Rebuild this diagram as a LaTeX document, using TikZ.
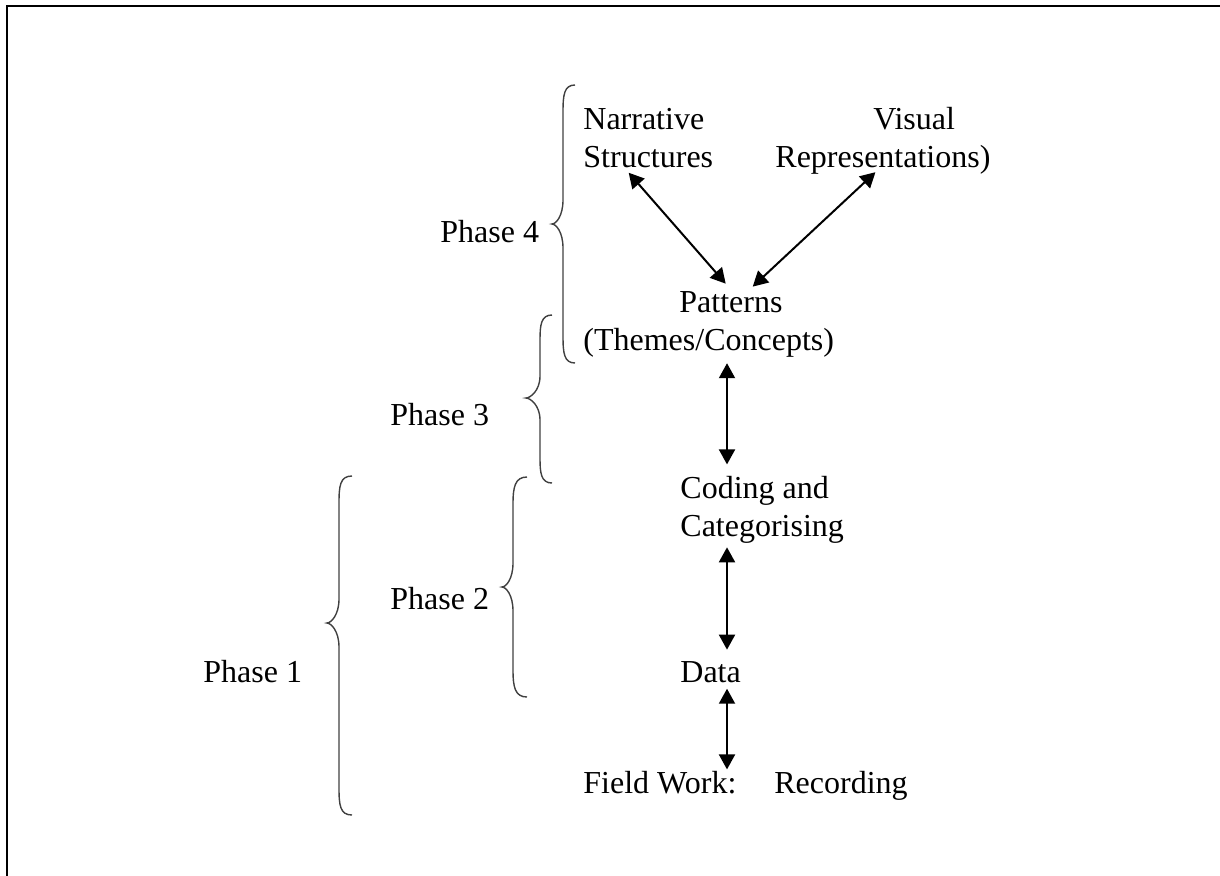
\documentclass[tikz,border=0pt]{standalone}
\usepackage{fontspec}
\setmainfont{Liberation Serif}
\usetikzlibrary{arrows.meta}
\tikzset{
  stage/.style={inner sep=0pt, anchor=base west, align=left, font=\fontsize{16}{19}\selectfont},
  link/.style={{Triangle[length=7.5pt,width=8pt]}-{Triangle[length=7.5pt,width=8pt]}, line width=1pt},
  brace line/.style={line width=0.7pt, black!75}
}
\begin{document}
\begin{tikzpicture}[x=0.5pt,y=-0.5pt]
\useasboundingbox (0,0) rectangle (1220,875);
\clip (0,0) rectangle (1220,875);
% frame
\draw[line width=1pt] (1222,6) -- (7,6) -- (7,877);
% stages
\node[stage] (narr) at (583,167) {Narrative\\Structures};
\node[stage] (vis) at (775,167) {\hspace*{49pt}Visual\\Representations)};
\node[stage] (pat) at (583,350) {\hspace*{48pt}Patterns\\(Themes/Concepts)};
\node[stage] (code) at (680,536) {Coding and\\Categorising};
\node[stage] (data) at (680,682) {Data};
\node[stage] (field) at (583,793) {Field Work:\hspace*{19pt}Recording};
\coordinate (spine) at (727,0);
% connectors
\draw[link] ([xshift=-9.8pt,yshift=-2.5pt]narr.south) -- ([xshift=8.5pt,yshift=3.5pt]pat.north);
\draw[link] ([xshift=-3.75pt,yshift=1pt]vis.south) -- ([xshift=22pt,yshift=2pt]pat.north);
\draw[link, shorten <=3pt, shorten >=5.5pt] (pat.south -| spine) -- (code.north -| spine);
\draw[link, shorten <=2pt, shorten >=5.5pt] (code.south -| spine) -- (data.north -| spine);
\draw[link, shorten <=3pt, shorten >=0.5pt] (data.south -| spine) -- (field.north -| spine);
% phases
\node[stage] (ph4) at (440,242) {Phase 4};
\node[stage] (ph3) at (390,425) {Phase 3};
\node[stage] (ph2) at (390,609) {Phase 2};
\node[stage] (ph1) at (203,682) {Phase 1};
% braces
\draw[brace line] (575,85) .. controls (564,85) and (563,95) .. (563,112) -- (563,200)
  .. controls (563,216) and (556,224) .. (552,224) .. controls (556,224) and (563,232) .. (563,248)
  -- (563,336) .. controls (563,353) and (564,363) .. (575,363);
\draw[brace line] (552,315) .. controls (541,315) and (540,325) .. (540,340) -- (540,376)
  .. controls (540,391) and (530,398) .. (526,398) .. controls (530,398) and (540,405) .. (540,420)
  -- (540,458) .. controls (540,473) and (541,483) .. (552,483);
\draw[brace line] (527,477) .. controls (515,477) and (513,487) .. (513,504) -- (513,563)
  .. controls (513,579) and (506,587) .. (502,587) .. controls (506,587) and (513,595) .. (513,611)
  -- (513,670) .. controls (513,687) and (515,697) .. (527,697);
\draw[brace line] (352,476) .. controls (340,476) and (339,486) .. (339,503) -- (339,599)
  .. controls (339,615) and (331,623) .. (327,623) .. controls (331,623) and (339,631) .. (339,647)
  -- (339,788) .. controls (339,805) and (340,815) .. (352,815);
\end{tikzpicture}
\end{document}
